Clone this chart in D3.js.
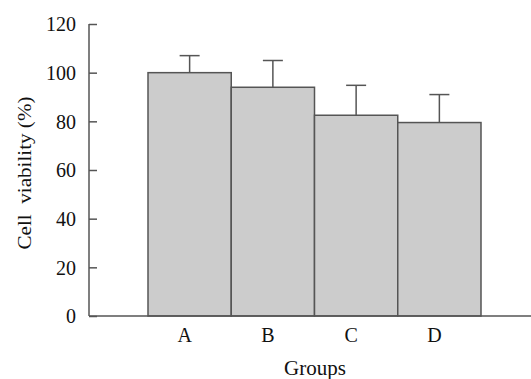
<!DOCTYPE html>
<html><head><meta charset="utf-8">
<script src="https://cdn.jsdelivr.net/npm/d3@7"></script>
<style>body{margin:0;background:#fff}svg{display:block}text{font-family:"Liberation Serif","Times New Roman",serif;fill:#111}</style>
</head><body><svg id="c" width="531" height="379"></svg>
<script>
const groups = ["A","B","C","D"];
const means = [100, 94, 82.5, 79.5];
const errors = [7, 11, 12.3, 11.5];
const yTicks = [0,20,40,60,80,100,120];

const svg = d3.select("#c");
const x0 = 89, yBase = 316, yTop = 24;
const y = d3.scaleLinear().domain([0,120]).range([yBase, yTop]);
const x = d3.scaleBand().domain(groups).range([148, 481]).padding(0);
const stroke = "#555";

// bars
svg.selectAll("rect.bar").data(groups).enter().append("rect")
  .attr("x", d => x(d)).attr("width", x.bandwidth())
  .attr("y", (d,i) => y(means[i])).attr("height", (d,i) => yBase - y(means[i]))
  .attr("fill", "#cccccc").attr("stroke", stroke).attr("stroke-width", 1.5);

// error bars
const cap = 10;
groups.forEach((g,i) => {
  const cx = x(g) + x.bandwidth()/2;
  svg.append("line").attr("x1",cx).attr("x2",cx).attr("y1",y(means[i])).attr("y2",y(means[i]+errors[i]))
    .attr("stroke",stroke).attr("stroke-width",1.5);
  svg.append("line").attr("x1",cx-cap).attr("x2",cx+cap).attr("y1",y(means[i]+errors[i])).attr("y2",y(means[i]+errors[i]))
    .attr("stroke",stroke).attr("stroke-width",1.5);
});

// y axis
const yAxis = svg.append("g").attr("transform", `translate(${x0},0)`)
  .call(d3.axisRight(y).tickValues(yTicks).tickSize(8).tickFormat(d3.format("d")));
yAxis.select(".domain").remove();
yAxis.selectAll(".tick line").attr("stroke", stroke).attr("stroke-width",1.5);
yAxis.selectAll(".tick text").attr("x",-13).attr("text-anchor","end").attr("dy","0.34em")
  .style("font-size","20px").attr("fill","#111");
svg.append("line").attr("x1",x0).attr("x2",x0).attr("y1",yTop).attr("y2",yBase).attr("stroke",stroke).attr("stroke-width",1.5);
// x axis line
svg.append("line").attr("x1",x0).attr("x2",531).attr("y1",yBase).attr("y2",yBase).attr("stroke",stroke).attr("stroke-width",1.5);

// x labels
svg.selectAll("text.xl").data(groups).enter().append("text")
  .attr("x", d => x(d) + x.bandwidth()/2 - 5).attr("y", 342)
  .attr("text-anchor","middle").style("font-size","20px").text(d => d);

svg.append("text").attr("x",315).attr("y",375).attr("text-anchor","middle")
  .style("font-size","21px").text("Groups");

svg.append("text").attr("transform","translate(31,173) rotate(-90)")
  .attr("text-anchor","middle").style("font-size","19px")
  .attr("textLength",153).attr("lengthAdjust","spacingAndGlyphs")
  .attr("xml:space","preserve").text("Cell  viability (%)");
</script></body></html>
